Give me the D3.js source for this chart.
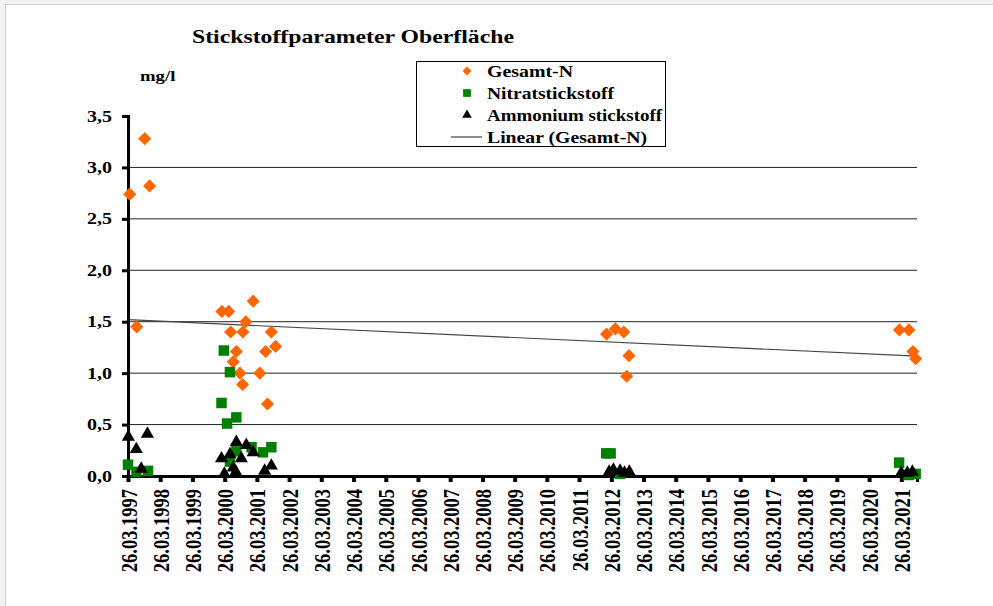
<!DOCTYPE html>
<html>
<head>
<meta charset="utf-8">
<script src="https://cdn.jsdelivr.net/npm/d3@7/dist/d3.min.js"></script>
<style>
  body { margin: 0; background: #f2f2f2; }
  svg { display: block; }
  text { font-family: "Liberation Serif", "Times New Roman", serif; font-weight: bold; fill: #000; }
</style>
</head>
<body>
<div id="chart"></div>
<script>
// Messwerte (Datum, mg/l)
var gesamtN = [
  ["14.04.1997", 2.74], ["03.07.1997", 1.45], ["02.10.1997", 3.28], ["26.11.1997", 2.82],
  ["23.02.2000", 1.60], ["10.05.2000", 1.60], ["01.06.2000", 1.40], ["01.07.2000", 1.11],
  ["05.08.2000", 1.21], ["15.09.2000", 1.00], ["15.10.2000", 0.89], ["18.10.2000", 1.40],
  ["20.11.2000", 1.50], ["12.02.2001", 1.70], ["28.04.2001", 1.00], ["03.07.2001", 1.21],
  ["24.07.2001", 0.70], ["06.09.2001", 1.40], ["24.10.2001", 1.26],
  ["01.02.2012", 1.38], ["10.05.2012", 1.43], ["14.08.2012", 1.40], ["16.09.2012", 0.97],
  ["12.10.2012", 1.17],
  ["05.03.2021", 1.42], ["20.06.2021", 1.42], ["05.08.2021", 1.21], ["05.09.2021", 1.14]
];
var nitrat = [
  ["26.03.1997", 0.11], ["30.06.1997", 0.04], ["08.11.1997", 0.05],
  ["19.02.2000", 0.71], ["16.03.2000", 1.22], ["22.04.2000", 0.51], ["25.05.2000", 1.01],
  ["25.05.2000", 0.14], ["05.08.2000", 0.57], ["05.08.2000", 0.24], ["24.01.2001", 0.28],
  ["03.06.2001", 0.23], ["06.09.2001", 0.28],
  ["28.01.2012", 0.22], ["18.03.2012", 0.22], ["03.07.2012", 0.02],
  ["01.03.2021", 0.13], ["20.06.2021", 0.01], ["05.09.2021", 0.02]
];
var ammonium = [
  ["30.03.1997", 0.37], ["28.06.1997", 0.25], ["23.08.1997", 0.06], ["01.11.1997", 0.40],
  ["19.02.2000", 0.16], ["22.03.2000", 0.01], ["25.05.2000", 0.20], ["01.07.2000", 0.07],
  ["30.07.2000", 0.03], ["05.08.2000", 0.32], ["01.10.2000", 0.16], ["26.11.2000", 0.29],
  ["12.02.2001", 0.22], ["22.06.2001", 0.04], ["06.09.2001", 0.09],
  ["01.03.2012", 0.03], ["18.04.2012", 0.05], ["03.07.2012", 0.04], ["22.08.2012", 0.02],
  ["16.10.2012", 0.03],
  ["26.03.2021", 0.02], ["03.06.2021", 0.02], ["29.07.2021", 0.03]
];
// Linear (Gesamt-N), Endpunkte
var trendN = [["26.03.1997", 1.52], ["20.09.2021", 1.165]];
var tickYears = d3.range(1997, 2022);
var yTicks = [0, 0.5, 1, 1.5, 2, 2.5, 3, 3.5];
var legendLabels = ["Gesamt-N", "Nitratstickstoff", "Ammonium stickstoff", "Linear (Gesamt-N)"];

var width = 993, height = 606;
var stretch = 1.25; // Schrift ist in der Vorlage horizontal gestreckt
var parse = d3.timeParse("%d.%m.%Y");
var fmt = d3.timeFormat("%d.%m.%Y");

var svg = d3.select("#chart").append("svg")
  .attr("width", width)
  .attr("height", height);

// Rahmen
svg.append("rect")
  .attr("x", 5.5).attr("y", 4.5)
  .attr("width", width).attr("height", height)
  .attr("fill", "#fff")
  .attr("stroke", "#cfcfcf");

var x = d3.scaleTime()
  .domain([parse("26.03.1997"), parse("20.09.2021")])
  .range([128, 917]);
var y = d3.scaleLinear()
  .domain([0, 3.5])
  .range([476, 116]);

function label(sel, px, py, size, txt) {
  return sel.append("text")
    .attr("transform", "translate(" + px + "," + py + ") scale(" + stretch + ",1)")
    .style("font-size", size + "px")
    .text(txt);
}

// Gitterlinien
svg.append("g")
  .selectAll("line")
  .data(yTicks.filter(function(d) { return d > 0 && d < 3.5; }))
  .enter().append("line")
    .attr("x1", x.range()[0]).attr("x2", x.range()[1])
    .attr("y1", function(d) { return y(d); })
    .attr("y2", function(d) { return y(d); })
    .attr("stroke", "#222")
    .attr("stroke-width", 1);

// Trendlinie
svg.append("path")
  .datum(trendN)
  .attr("d", d3.line()
    .x(function(d) { return x(parse(d[0])); })
    .y(function(d) { return y(d[1]); }))
  .attr("fill", "none")
  .attr("stroke", "#444")
  .attr("stroke-width", 1.2);

// Achsen
var xAxis = svg.append("g")
  .attr("transform", "translate(0,476)")
  .call(d3.axisBottom(x)
    .tickValues(tickYears.map(function(yr) { return new Date(yr, 2, 26); }))
    .tickFormat(fmt)
    .tickSize(6)
    .tickPadding(8));
xAxis.select(".domain").attr("stroke", "#000").attr("stroke-width", 3);
xAxis.selectAll(".tick line").attr("stroke", "#000").attr("stroke-width", 4);
xAxis.selectAll(".tick text")
  .attr("transform", "translate(0,13) scale(" + stretch + ",1) rotate(-90)")
  .attr("x", 0).attr("y", 0).attr("dy", "0.35em")
  .style("text-anchor", "end")
  .style("font-size", "18.5px")
  .style("font-family", "Liberation Serif")
  .style("font-weight", "bold");

var yAxis = svg.append("g")
  .attr("transform", "translate(128,0)")
  .call(d3.axisLeft(y)
    .tickValues(yTicks)
    .tickFormat(function(d) { return d3.format(".1f")(d).replace(".", ","); })
    .tickSize(6)
    .tickPadding(9));
yAxis.select(".domain").attr("stroke", "#000").attr("stroke-width", 3);
yAxis.selectAll(".tick line").attr("stroke", "#000").attr("stroke-width", 3);
yAxis.selectAll(".tick text")
  .attr("transform", "translate(-16,0) scale(" + stretch + ",1)")
  .attr("x", 0)
  .style("font-size", "16px")
  .style("font-family", "Liberation Serif")
  .style("font-weight", "bold");

// Punkte
var diamond = d3.symbol().type(d3.symbolDiamond2).size(110);
var square = d3.symbol().type(d3.symbolSquare).size(110);
var triangle = d3.symbol().type(d3.symbolTriangle).size(75);

svg.append("g").selectAll("path")
  .data(gesamtN)
  .enter().append("path")
    .attr("d", diamond)
    .attr("fill", "#ff6600")
    .attr("transform", function(d) { return "translate(" + x(parse(d[0])) + "," + y(d[1]) + ")"; });

svg.append("g").selectAll("path")
  .data(nitrat)
  .enter().append("path")
    .attr("d", square)
    .attr("fill", "#008000")
    .attr("transform", function(d) { return "translate(" + x(parse(d[0])) + "," + y(d[1]) + ")"; });

svg.append("g").selectAll("path")
  .data(ammonium)
  .enter().append("path")
    .attr("d", triangle)
    .attr("fill", "#000")
    .attr("transform", function(d) { return "translate(" + x(parse(d[0])) + "," + (y(d[1]) - 1) + ")"; });

// Titel
label(svg, 192, 43, 19, "Stickstoffparameter Oberfläche");
label(svg, 140, 81, 15, "mg/l");

// Legende
var legend = svg.append("g");
legend.append("rect")
  .attr("x", 416.5).attr("y", 61.5)
  .attr("width", 249).attr("height", 85)
  .attr("fill", "#fff")
  .attr("stroke", "#000");

var rowY = [71, 93, 115, 137];
var rowW = [86, 127, 175, 160];
legendLabels.forEach(function(d, i) {
  legend.append("text")
    .attr("x", 487).attr("y", rowY[i] + 6)
    .attr("textLength", rowW[i])
    .attr("lengthAdjust", "spacingAndGlyphs")
    .style("font-size", "16px")
    .text(d);
});

var lg = legend.selectAll("g.item")
  .data(legendLabels)
  .enter().append("g")
    .attr("class", "item")
    .attr("transform", function(d, i) { return "translate(0," + rowY[i] + ")"; });

lg.each(function(d, i) {
  var g = d3.select(this);
  if (i === 0) g.append("path").attr("d", d3.symbol().type(d3.symbolDiamond2).size(50)).attr("fill", "#ff6600").attr("transform", "translate(467,0)");
  if (i === 1) g.append("path").attr("d", d3.symbol().type(d3.symbolSquare).size(60)).attr("fill", "#008000").attr("transform", "translate(467,0)");
  if (i === 2) g.append("path").attr("d", d3.symbol().type(d3.symbolTriangle).size(40)).attr("fill", "#000").attr("transform", "translate(467,0)");
  if (i === 3) g.append("line").attr("x1", 451).attr("x2", 482).attr("stroke", "#444").attr("stroke-width", 1.2);
});
</script>
</body>
</html>
